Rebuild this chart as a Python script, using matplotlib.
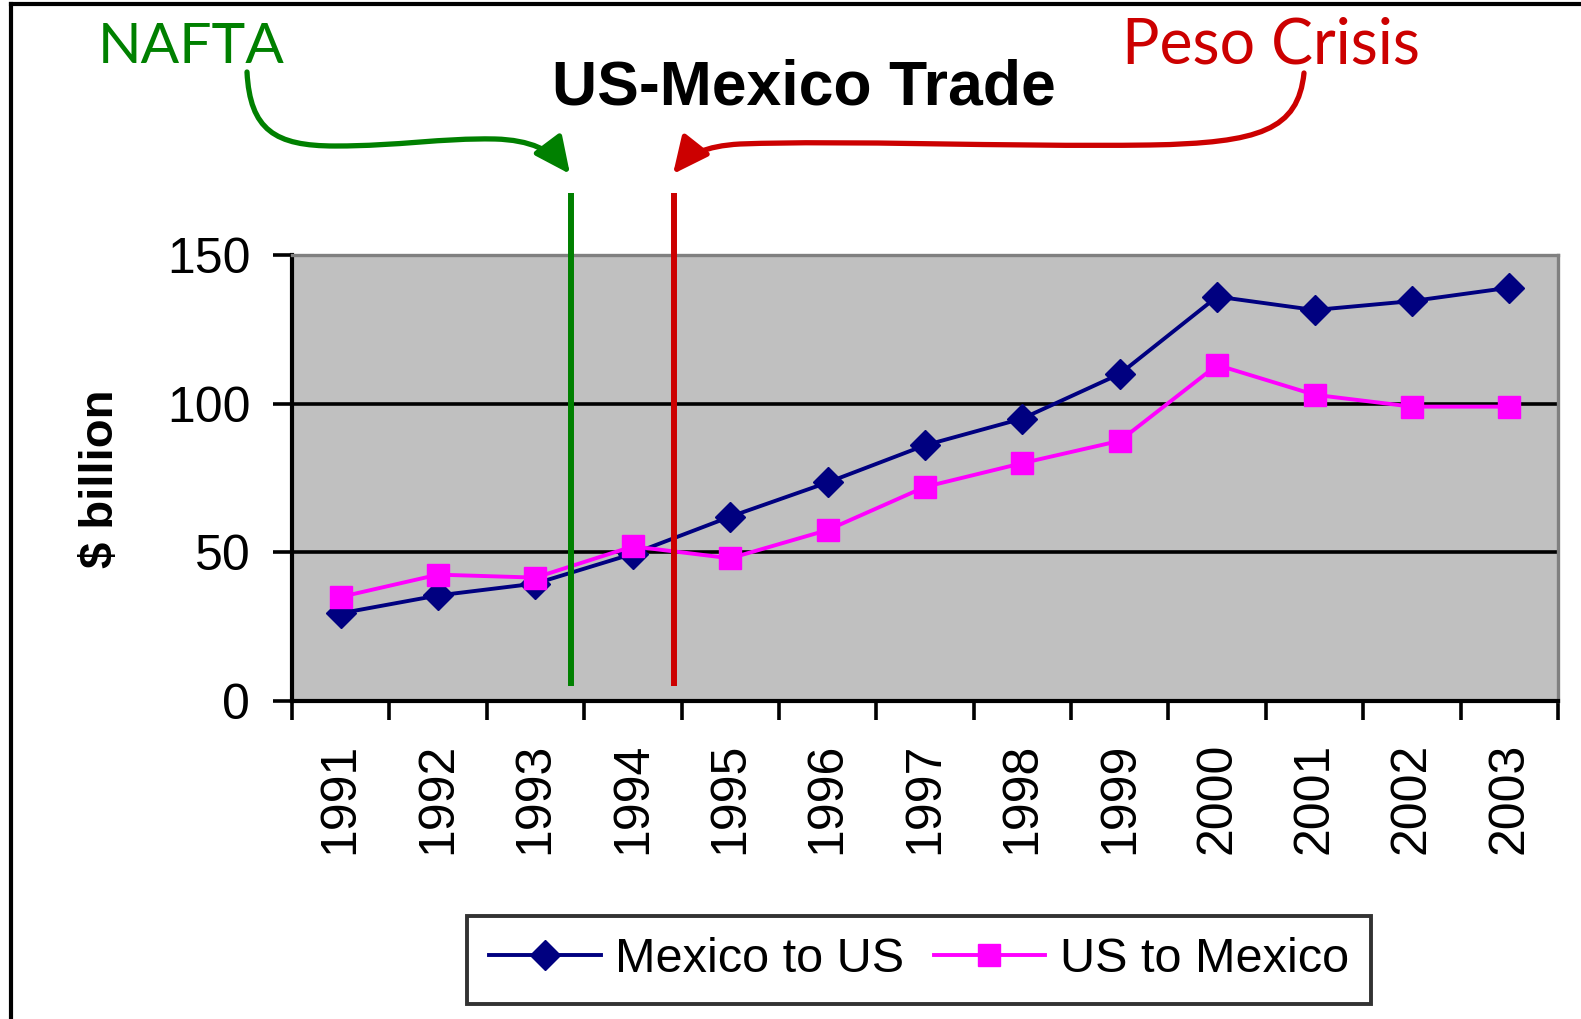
import matplotlib.pyplot as plt
from matplotlib.path import Path
from matplotlib.patches import FancyArrowPatch
from matplotlib.lines import Line2D
import numpy as np

plt.rcParams['font.family'] = ['Liberation Sans', 'DejaVu Sans']

# --- data ($ billion) ---
years = ['1991', '1992', '1993', '1994', '1995', '1996', '1997',
         '1998', '1999', '2000', '2001', '2002', '2003']
mexico_to_us = [29.5, 35.5, 39.5, 49.5, 62, 73.5, 86, 95, 110, 136, 131.5, 134.5, 139]
us_to_mexico = [35, 42.5, 41.5, 52, 48, 57.5, 72, 80, 87.5, 113, 103, 99, 99]
y_ticks = [0, 50, 100, 150]

# event markers, in category index units (between years)
nafta_pos = 2.36
peso_pos = 3.42

W, H = 1581, 1019
fig = plt.figure(figsize=(W / 100, H / 100), dpi=100)
fig.patch.set_facecolor('white')


def px(x, y):
    # pixel (from top-left) -> figure fraction
    return (x / W, 1 - y / H)


ax = fig.add_axes([292 / W, 1 - 701 / H, (1558 - 292) / W, (701 - 255) / H])
ax.set_facecolor('#C0C0C0')

x = np.arange(len(years))
ax.plot(x, mexico_to_us, color='#000080', lw=2.8, marker='D', ms=15,
        label='Mexico to US', zorder=3, clip_on=False)
ax.plot(x, us_to_mexico, color='#FF00FF', lw=2.8, marker='s', ms=16.5,
        label='US to Mexico', zorder=4, clip_on=False)

# event lines
ax.vlines(nafta_pos, 5, 171, color='#008000', lw=4.3, zorder=5, clip_on=False)
ax.vlines(peso_pos, 5, 171, color='#CC0000', lw=4.3, zorder=5, clip_on=False)

# horizontal gridlines (not the top one, which is the grey frame)
for yv in y_ticks[1:-1]:
    ax.axhline(yv, color='black', lw=2.6, zorder=1)

ax.set_xlim(-0.5, len(years) - 0.5)
ax.set_ylim(y_ticks[0], y_ticks[-1])

ax.set_yticks(y_ticks)
ax.tick_params(axis='y', direction='out', length=14, width=2.6, pad=16,
               labelsize=36, colors='black')
ax.set_xticks(np.arange(-0.5, len(years), 1))
ax.set_xticklabels([])
ax.tick_params(axis='x', which='major', direction='out', length=14, width=2.6)
ax.set_xticks(x, minor=True)
ax.set_xticklabels(years, minor=True, rotation=90, fontsize=36)
ax.tick_params(axis='x', which='minor', length=0, pad=30)

for side in ['left', 'bottom']:
    ax.spines[side].set_color('black')
    ax.spines[side].set_linewidth(3)
for side in ['top', 'right']:
    ax.spines[side].set_color('#808080')
    ax.spines[side].set_linewidth(2.4)

fig.text(*px(101, 479), '$ billion', rotation=90, ha='center', va='center',
         fontsize=34, fontweight='bold')

fig.text(*px(804, 88), 'US-Mexico Trade', ha='center', va='center',
         fontsize=45, fontweight='bold')

# annotations
fig.text(*px(98, 63), 'NAFTA', color='#008000', fontsize=41,
         family=['Lato', 'DejaVu Sans'], ha='left', va='baseline')
fig.text(*px(1122, 63), 'Peso Crisis', color='#CC0000', fontsize=45,
         family=['Lato', 'DejaVu Sans'], ha='left', va='baseline')

green_path = Path([px(247, 72), px(250, 130), px(275, 146), px(335, 146),
                   px(400, 146), px(440, 138), px(495, 139),
                   px(530, 140), px(552, 150), px(570, 174)],
                  [Path.MOVETO, Path.CURVE4, Path.CURVE4, Path.CURVE4,
                   Path.CURVE4, Path.CURVE4, Path.CURVE4,
                   Path.CURVE4, Path.CURVE4, Path.CURVE4])
red_path = Path([px(1304, 73), px(1298, 130), px(1260, 143), px(1150, 145),
                 px(1000, 147), px(850, 140), px(740, 144),
                 px(705, 146), px(688, 155), px(673, 174)],
                [Path.MOVETO, Path.CURVE4, Path.CURVE4, Path.CURVE4,
                 Path.CURVE4, Path.CURVE4, Path.CURVE4,
                 Path.CURVE4, Path.CURVE4, Path.CURVE4])
for pth, col in [(green_path, '#008000'), (red_path, '#CC0000')]:
    arr = FancyArrowPatch(path=pth, transform=fig.transFigure,
                          arrowstyle='-|>,head_length=1.1,head_width=0.52',
                          mutation_scale=20, color=col, lw=3.8)
    fig.add_artist(arr)

# outer frame (left and top edges)
fig.add_artist(Line2D([11 / W, 11 / W], [0, 1 - 4 / H], transform=fig.transFigure,
                      color='black', lw=3))
fig.add_artist(Line2D([11 / W, 1], [1 - 4 / H, 1 - 4 / H], transform=fig.transFigure,
                      color='black', lw=3))

leg = fig.legend(loc='center', bbox_to_anchor=px(919, 960), ncol=2,
                 fontsize=35, frameon=True, fancybox=False, handlelength=2.3,
                 handletextpad=0.3, columnspacing=0.6, borderpad=0.45,
                 borderaxespad=0)
leg.get_frame().set_edgecolor('black')
leg.get_frame().set_linewidth(2.8)

fig.savefig('out.png', dpi=100, facecolor='white')
